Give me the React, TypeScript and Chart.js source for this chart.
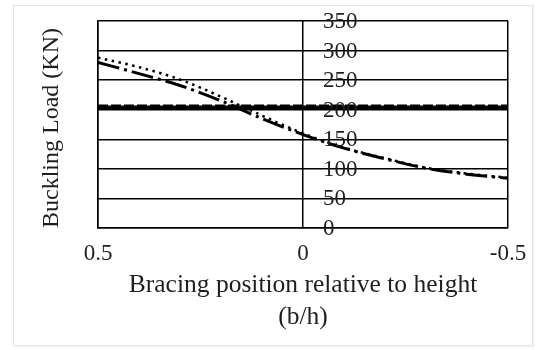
import React, { useEffect, useRef } from "react";
import { Chart, registerables } from "chart.js";

Chart.register(...registerables);

// Bracing position (b/h), plotted from 0.5 on the left to -0.5 on the right
const bracingPositions = [0.5, 0.4, 0.3, 0.2, 0.1, 0, -0.1, -0.2, -0.3, -0.4, -0.5];
// Buckling load (KN) for each bracing position
const unbracedLoad = [204, 204, 204, 204, 204, 204, 204, 204, 204, 204, 204];
const dottedLoad = [288, 272, 251, 222, 190, 160, 136, 118, 102, 92, 85];
const dashDotLoad = [280, 261, 241, 215, 185, 158, 135, 117, 101, 91, 84];
const yTickValues = [0, 50, 100, 150, 200, 250, 300, 350];

const FONT = "'Liberation Serif', 'Times New Roman', serif";
const TEXT = "#1e1e1e";

const toPoints = (vals: number[]) => bracingPositions.map((x, i) => ({ x, y: vals[i] }));

// Y tick labels sit just right of the vertical line at b/h = 0
const centerTicks = {
  id: "centerTicks",
  afterDraw(chart: any) {
    const { ctx, scales } = chart;
    const x0 = scales.x.getPixelForValue(0);
    ctx.save();
    ctx.font = `23px ${FONT}`;
    ctx.fillStyle = TEXT;
    ctx.textAlign = "left";
    ctx.textBaseline = "middle";
    yTickValues.forEach((v) => {
      ctx.fillText(String(v), x0 + 20, scales.y.getPixelForValue(v) + 1);
    });
    ctx.restore();
  },
};

export default function App() {
  const canvasRef = useRef<HTMLCanvasElement | null>(null);

  useEffect(() => {
    document.body.style.margin = "0";
    const canvas = canvasRef.current;
    if (!canvas) return;
    const chart = new Chart(canvas, {
      type: "line",
      data: {
        datasets: [
          {
            data: toPoints(unbracedLoad),
            borderColor: "#000",
            borderWidth: 3.5,
            pointRadius: 0,
          },
          {
            data: toPoints(unbracedLoad),
            borderColor: "#000",
            borderWidth: 5.5,
            borderDash: [10, 3],
            pointRadius: 0,
          },
          {
            data: toPoints(dottedLoad),
            borderColor: "#000",
            borderWidth: 2.5,
            borderDash: [2.5, 4.5],
            cubicInterpolationMode: "monotone",
            pointRadius: 0,
          },
          {
            data: toPoints(dashDotLoad),
            borderColor: "#000",
            borderWidth: 3,
            borderDash: [22, 5, 3, 5],
            cubicInterpolationMode: "monotone",
            pointRadius: 0,
          },
        ],
      },
      options: {
        animation: false,
        responsive: false,
        layout: { padding: { left: 0, right: 31, top: 21, bottom: 0 } },
        plugins: { legend: { display: false }, tooltip: { enabled: false } },
        scales: {
          x: {
            type: "linear",
            min: -0.5,
            max: 0.5,
            reverse: true,
            afterFit: (s: any) => {
              s.height = 122;
            },
            ticks: {
              stepSize: 0.5,
              padding: 12,
              color: TEXT,
              font: { family: FONT, size: 23 },
              callback: (v: any) => String(v),
            },
            grid: { color: "#000", lineWidth: 1.5, drawTicks: false },
            border: { color: "#000", width: 1.5 },
            title: {
              display: true,
              text: ["Bracing position relative to height", "(b/h)"],
              color: TEXT,
              font: { family: FONT, size: 25.5, lineHeight: 1.255 },
              padding: { top: 0, bottom: 17 },
            },
          },
          y: {
            min: 0,
            max: 350,
            afterFit: (s: any) => {
              s.width = 98;
            },
            ticks: { stepSize: 50, display: false },
            grid: { color: "#000", lineWidth: 1.5, drawTicks: false },
            border: { color: "#000", width: 1.5 },
            title: {
              display: true,
              text: "Buckling Load (KN)",
              align: "start",
              color: TEXT,
              font: { family: FONT, size: 24, lineHeight: 1.2 },
              padding: { top: 37, bottom: 0 },
            },
          },
        },
      },
      plugins: [centerTicks],
    });
    return () => chart.destroy();
  }, []);

  return (
    <div style={{ position: "relative", width: 539, height: 350, background: "#fff" }}>
      <div
        style={{
          position: "absolute",
          left: 13,
          top: 5,
          width: 518,
          height: 339,
          border: "1px solid #e4e4e4",
          boxShadow: "1px 1px 2px rgba(0,0,0,0.08)",
        }}
      />
      <canvas ref={canvasRef} width={539} height={350} style={{ position: "absolute", left: 0, top: 0 }} />
    </div>
  );
}
